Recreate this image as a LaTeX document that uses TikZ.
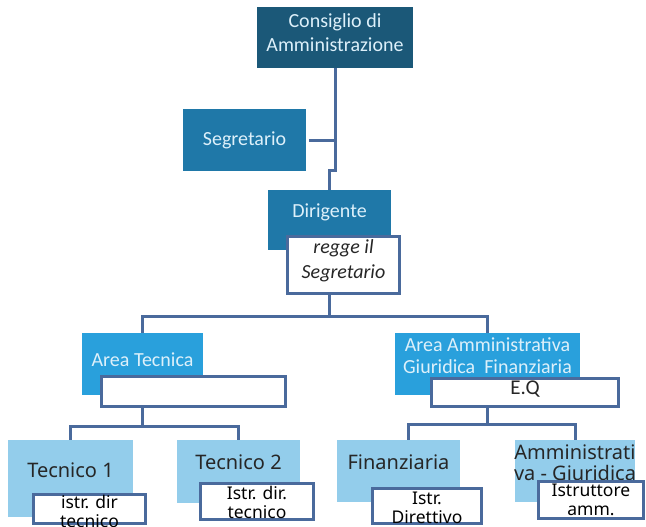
\documentclass[tikz,border=0pt]{standalone}
\usepackage{fontspec}
\setmainfont{Carlito}
\newfontfamily\lowfont{Noto Sans}
\definecolor{boardblue}{RGB}{27,88,120}
\definecolor{staffblue}{RGB}{31,120,168}
\definecolor{areablue}{RGB}{41,160,220}
\definecolor{unitblue}{RGB}{147,205,235}
\definecolor{linkgray}{RGB}{74,106,156}
\definecolor{paleblue}{RGB}{221,240,250}
\tikzset{
  box/.style={rectangle, inner sep=0pt},
  boardbox/.style={box, fill=boardblue},
  staffbox/.style={box, fill=staffblue},
  areabox/.style={box, fill=areablue},
  unitbox/.style={box, fill=unitblue},
  notebox/.style={box, fill=white, draw=linkgray, line width=3pt},
  toptext/.style={align=center, inner sep=0pt, text=paleblue,
    font=\fontsize{20}{24.5}\selectfont},
  unittext/.style={align=center, inner sep=0pt, text=black!85,
    font=\lowfont\fontsize{20}{21}\selectfont},
  notetext/.style={align=center, inner sep=0pt, text=black,
    font=\lowfont\fontsize{17.5}{19}\selectfont},
  link/.style={draw=linkgray, line width=3pt},
}
\begin{document}
\begin{tikzpicture}[x=1pt,y=-1pt]
    \useasboundingbox (0,0) rectangle (646,527);

    % board and staff
    \node[boardbox, minimum width=156, minimum height=61] (board) at (335,37.5) {};
    \node[toptext] (board-txt) at ([yshift=5pt]board.center) {Consiglio di\\Amministrazione};
    \node[staffbox, minimum width=123, minimum height=62] (secr) at (244.5,140) {};
    \node[toptext] (secr-txt) at (secr.center) {Segretario};
    \node[staffbox, minimum width=123, minimum height=60] (dir) at (329.5,220) {};
    \node[toptext] (dir-txt) at ([yshift=8pt]dir.center) {Dirigente};
    \node[notebox, minimum width=112, minimum height=57] (regge) at (343.5,265) {};
    \node[toptext, text=black!85, font=\itshape\fontsize{20}{25}\selectfont]
      (regge-txt) at ([yshift=4.5pt]regge.center) {regge il\\Segretario};

    % areas
    \node[areabox, minimum width=121, minimum height=62] (tec) at (142.5,364) {};
    \node[toptext] (tec-txt) at ([yshift=4pt]tec.center) {Area Tecnica};
    \node[notebox, minimum width=184, minimum height=30] (tecw) at (193.5,391.5) {};

    \node[areabox, minimum width=185, minimum height=62] (amm) at (487.5,364) {};
    \node[toptext, font=\fontsize{20}{22}\selectfont]
      (amm-txt) at ([yshift=8pt]amm.center) {Area Amministrativa\\Giuridica\ \ Finanziaria};
    \node[notebox, minimum width=187, minimum height=28] (ammw) at (525,392.5) {};
    \node[toptext, text=black!85, font=\fontsize{21}{22}\selectfont]
      (ammw-txt) at ([yshift=3.5pt]ammw.center) {E.Q};

    % units
    \node[unitbox, minimum width=125, minimum height=77] (tec1) at (70.5,478.5) {};
    \node[unittext] (tec1-txt) at ([yshift=8.5pt]tec1.center) {Tecnico 1};
    \node[notebox, minimum width=112, minimum height=29] (tec1w) at (89.5,509) {};
    \node[notetext] (tec1w-txt) at ([yshift=-2pt]tec1w.center) {istr. dir\\tecnico};

    \node[unitbox, minimum width=123, minimum height=63] (tec2) at (238.5,471.5) {};
    \node[unittext] (tec2-txt) at ([yshift=9.5pt]tec2.center) {Tecnico 2};
    \node[notebox, minimum width=113, minimum height=36] (tec2w) at (257,501.5) {};
    \node[notetext] (tec2w-txt) at ([yshift=-1pt]tec2w.center) {Istr. dir.\\tecnico};

    \node[unitbox, minimum width=123, minimum height=62] (fin) at (398.5,471) {};
    \node[unittext] (fin-txt) at ([yshift=9pt]fin.center) {Finanziaria};
    \node[notebox, minimum width=109, minimum height=35] (finw) at (427,506) {};
    \node[notetext] (finw-txt) at ([yshift=-2pt]finw.center) {Istr.\\Direttivo};

    \node[unitbox, minimum width=120, minimum height=62] (giu) at (575,471) {};
    \node[unittext] (giu-txt) at ([yshift=8.5pt]giu.center) {Amministrati\\va - Giuridica};
    \node[notebox, minimum width=105, minimum height=37] (giuw) at (591,500) {};
    \node[notetext] (giuw-txt) at (giuw.center) {Istruttore\\amm.};

    % links
    \draw[link] (board.south) -- ++(0,102) -| (dir.north);
    \draw[link] ([xshift=3pt]secr.east) -- (secr.east -| board.south);
    \draw[link] (regge.south -| dir.north) -- ++(0,21) coordinate (bus1) -| (tec.north);
    \draw[link] (bus1) -| (amm.north);
    \draw[link] (tecw.south -| tec.north) -- ++(0,18) coordinate (bus2) -| (tec1.north);
    \draw[link] (bus2) -| (tec2.north);
    \draw[link] (ammw.south -| amm.north) -- ++(0,16) coordinate (bus3) -| ([xshift=9.5pt]fin.north);
    \draw[link] (bus3) -| (giu.north);
\end{tikzpicture}
\end{document}
